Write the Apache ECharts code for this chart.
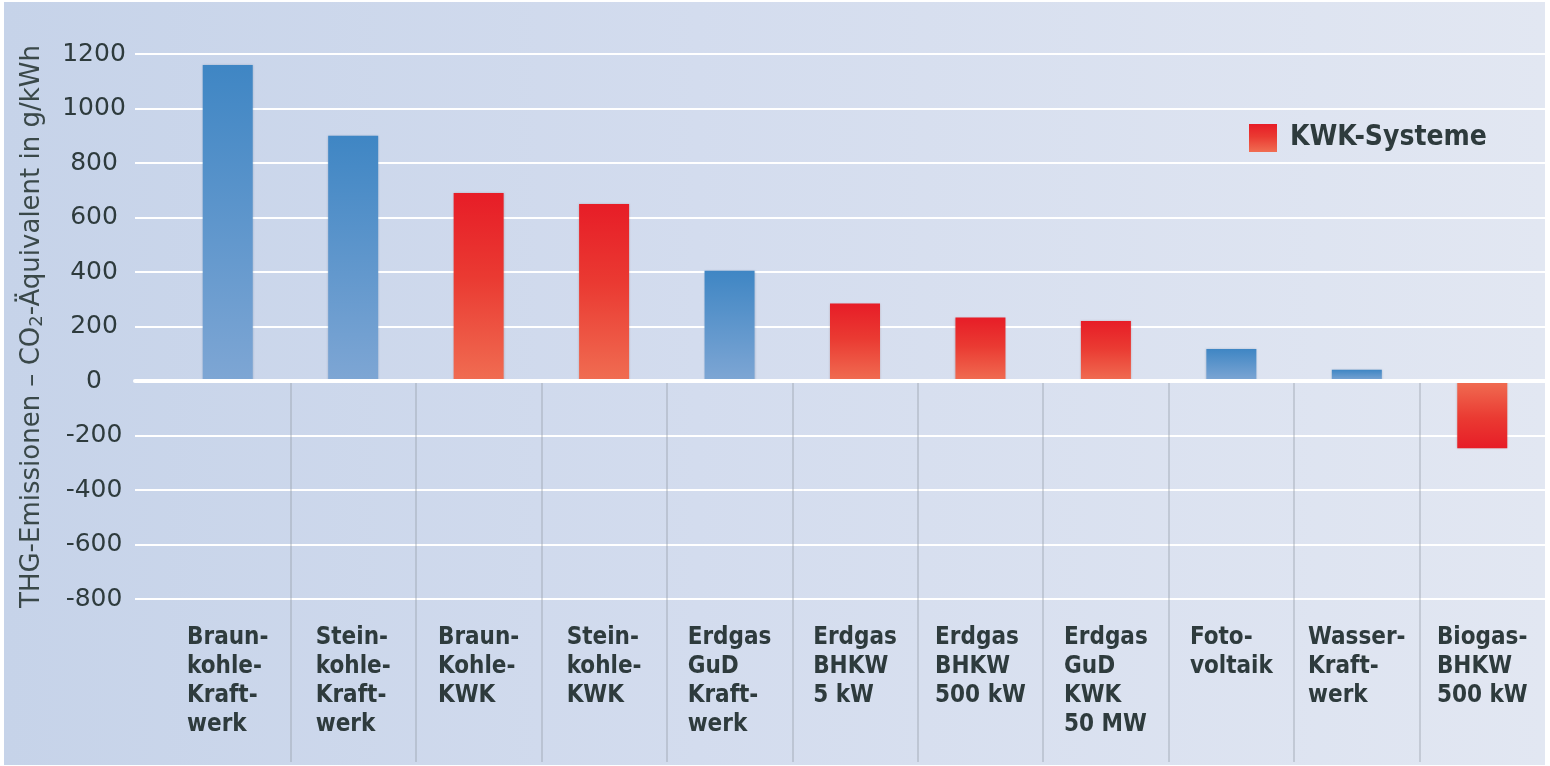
<!DOCTYPE html>
<html>
<head>
<meta charset="utf-8">
<script src="https://cdn.jsdelivr.net/npm/echarts@6/dist/echarts.min.js"></script>
<style>
html,body{margin:0;padding:0;background:#ffffff;width:1550px;height:766px;overflow:hidden;}
#panel{position:absolute;left:4px;top:2px;width:1541px;height:763px;background:linear-gradient(to right,#c6d3e9 0%,#d3dcee 45%,#e2e7f2 100%);}
#chart{position:absolute;left:0;top:0;width:1550px;height:766px;}
</style>
</head>
<body>
<div id="panel"></div>
<div id="chart"></div>
<script>
// ---- data ----
const categories = [
  'Braun-\nkohle-\nKraft-\nwerk',
  'Stein-\nkohle-\nKraft-\nwerk',
  'Braun-\nKohle-\nKWK',
  'Stein-\nkohle-\nKWK',
  'Erdgas\nGuD\nKraft-\nwerk',
  'Erdgas\nBHKW\n5 kW',
  'Erdgas\nBHKW\n500 kW',
  'Erdgas\nGuD\nKWK\n50 MW',
  'Foto-\nvoltaik',
  'Wasser-\nKraft-\nwerk',
  'Biogas-\nBHKW\n500 kW'
];
const emissions = [1160, 900, 690, 650, 405, 284, 233, 220, 117, 41, -247];
const isKWK = [false, false, true, true, false, true, true, true, false, false, true];
const yTicks = { min: -800, max: 1200, step: 200 };
const legendName = 'KWK-Systeme';

// ---- styles ----
const textColor = '#2e3b3d';
const blueGrad = {type:'linear',x:0,y:0,x2:0,y2:1,colorStops:[{offset:0,color:'#3f86c4'},{offset:1,color:'#7ea6d4'}]};
const redGrad = {type:'linear',x:0,y:0,x2:0,y2:1,colorStops:[{offset:0,color:'#e71d27'},{offset:0.45,color:'#ea3a32'},{offset:1,color:'#f06d52'}]};
const redGradNeg = {type:'linear',x:0,y:0,x2:0,y2:1,colorStops:[{offset:0,color:'#f06d52'},{offset:0.55,color:'#ea3a32'},{offset:1,color:'#e71d27'}]};

const blueData = emissions.map((v,i) => isKWK[i] ? null : v);
const redData = emissions.map((v,i) => {
  if (!isKWK[i]) return null;
  return v < 0 ? {value: v, itemStyle: {color: redGradNeg}} : v;
});

const chart = echarts.init(document.getElementById('chart'), null, {renderer:'canvas'});
const gridTop = 54, gridBottom = 167;
chart.setOption({
  backgroundColor: 'transparent',
  animation: false,
  textStyle: { fontFamily: 'DejaVu Sans' },
  grid: [
    { left: 135, right: 5, top: gridTop, bottom: gridBottom },
    { left: 165, right: 5, top: gridTop, bottom: gridBottom },
    { left: 165, right: 5, top: 382, bottom: 4 }
  ],
  legend: {
    data: [legendName],
    left: 1249, top: 124, padding: 0,
    itemWidth: 28, itemHeight: 28, icon: 'rect',
    textStyle: { color: textColor, fontSize: 28, fontWeight: 'bold', fontFamily: 'DejaVu Sans Condensed', padding: [0,0,0,8] }
  },
  xAxis: [
    { gridIndex: 0, type: 'category', data: categories, z: 10,
      axisLine: { show: true, onZero: true, lineStyle: { color: '#ffffff', width: 4 } },
      axisTick: { show: false }, axisLabel: { show: false }, splitLine: { show: false } },
    { gridIndex: 1, type: 'category', data: categories,
      axisLine: { show: false, onZero: false }, axisTick: { show: false },
      axisLabel: { interval: 0, margin: 24, color: textColor, fontSize: 24, fontWeight: 'bold',
        fontFamily: 'DejaVu Sans Condensed', lineHeight: 29,
        formatter: v => v.split('\n').map(s => '{l|' + s + '}').join('\n'),
        rich: { l: { align: 'left', fontSize: 24, lineHeight: 29, color: textColor, fontWeight: 'bold', fontFamily: 'DejaVu Sans Condensed' } } } },
    { gridIndex: 2, type: 'category', data: categories,
      axisLine: { show: false, onZero: false }, axisTick: { show: false }, axisLabel: { show: false },
      splitLine: { show: true, interval: 0, showMinLine: false, showMaxLine: false,
        lineStyle: { color: 'rgba(150,158,170,0.5)', width: 1.5 } } }
  ],
  yAxis: [
    { gridIndex: 0, type: 'value', min: yTicks.min, max: yTicks.max, interval: yTicks.step,
      axisLine: { show: false }, axisTick: { show: false },
      splitLine: { show: true, lineStyle: { color: '#ffffff', width: 2 } },
      axisLabel: { margin: 41, align: 'center', color: textColor, fontSize: 25, fontFamily: 'DejaVu Sans',
        formatter: v => String(v) },
      name: 'THG-Emissionen – CO{s|2}-Äquivalent in g/kWh',
      nameLocation: 'middle', nameGap: 89, nameRotate: 90,
      nameTextStyle: { color: '#3a4849', fontSize: 26, fontFamily: 'DejaVu Sans',
        rich: { s: { fontSize: 18, verticalAlign: 'bottom', padding: [10,0,0,0], color: '#3a4849', fontFamily: 'DejaVu Sans' } } } },
    { gridIndex: 1, type: 'value', min: yTicks.min, max: yTicks.max, interval: yTicks.step, show: false,
      splitLine: { show: false } },
    { gridIndex: 2, type: 'value', show: false, splitLine: { show: false } }
  ],
  series: [
    { name: 'Kraftwerke', type: 'bar', xAxisIndex: 1, yAxisIndex: 1, data: blueData,
      barWidth: 50, barGap: '-100%', z: 3,
      itemStyle: { color: blueGrad, shadowBlur: 2, shadowColor: 'rgba(40,70,110,0.25)' } },
    { name: legendName, type: 'bar', xAxisIndex: 1, yAxisIndex: 1, data: redData,
      barWidth: 50, barGap: '-100%', z: 3,
      itemStyle: { color: redGrad, shadowBlur: 2, shadowColor: 'rgba(110,40,30,0.25)' } }
  ]
});
</script>
</body>
</html>
